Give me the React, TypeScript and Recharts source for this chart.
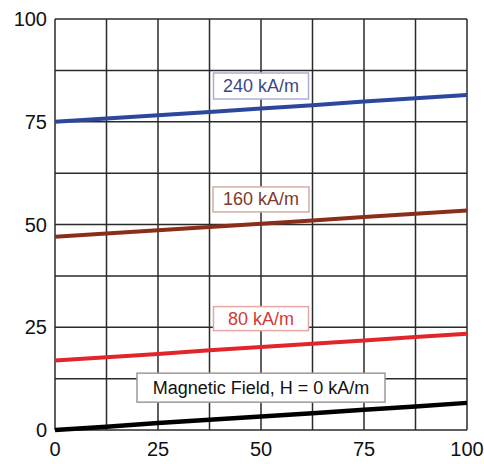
import { LineChart, Line, XAxis, YAxis, CartesianGrid, ReferenceDot } from 'recharts';

const xValues = [0, 12.5, 25, 37.5, 50, 62.5, 75, 87.5, 100];
const h0 = [0, 0.8, 1.7, 2.5, 3.3, 4.1, 4.9, 5.7, 6.6];
const h80 = [16.9, 17.7, 18.5, 19.4, 20.2, 21.0, 21.8, 22.6, 23.4];
const h160 = [47, 47.8, 48.6, 49.4, 50.2, 51.0, 51.8, 52.6, 53.4];
const h240 = [75, 75.8, 76.6, 77.4, 78.2, 79.0, 79.9, 80.7, 81.5];
const gridTicks = [0, 12.5, 25, 37.5, 50, 62.5, 75, 87.5, 100];
const seriesNames = ['Magnetic Field, H = 0 kA/m', '80 kA/m', '160 kA/m', '240 kA/m'];

const toPoints = (ys: number[]) => xValues.map((x, i) => ({ x, y: ys[i] }));

const series = [
  { name: seriesNames[0], data: toPoints(h0), color: '#000000', text: '#111111', border: '#9a9a9a', lx: 50, ly: 10.3, w: 248, h: 29, sw: 4.5 },
  { name: seriesNames[1], data: toPoints(h80), color: '#e0262a', text: '#d23a36', border: '#e7a7a4', lx: 50, ly: 27.1, w: 95, h: 24, sw: 4 },
  { name: seriesNames[2], data: toPoints(h160), color: '#8a2e1c', text: '#7e3a2c', border: '#cfb0a6', lx: 50, ly: 56.1, w: 96, h: 25, sw: 4 },
  { name: seriesNames[3], data: toPoints(h240), color: '#2c479c', text: '#3a4887', border: '#a9afcf', lx: 50, ly: 83.7, w: 95, h: 26, sw: 4 },
];

const fmt = (v: number) => (v % 25 === 0 ? String(v) : '');
const tickStyle = { fontSize: 20, fill: '#111', fontFamily: 'Liberation Sans, Arial, sans-serif' };

function BoxLabel(props: any) {
  const { cx, cy, label, w, h, text, border } = props;
  return (
    <g>
      <rect x={cx - w / 2} y={cy - h / 2} width={w} height={h} fill="#fff" stroke={border} strokeWidth={1.5} />
      <text x={cx} y={cy} textAnchor="middle" dominantBaseline="central" fontSize={18}
        fontFamily="Liberation Sans, Arial, sans-serif" fill={text}>{label}</text>
    </g>
  );
}

export default function App() {
  return (
    <div style={{ position: 'absolute', left: 0, top: 0, background: '#fff' }}>
      <LineChart width={484} height={464} margin={{ top: 19, right: 17, bottom: 4, left: 0 }}>
        <CartesianGrid stroke="#2a2a2a" strokeWidth={1.5} />
        <XAxis dataKey="x" type="number" domain={[0, 100]} ticks={gridTicks} tickFormatter={fmt}
          axisLine={false} tickLine={false} tickSize={0} tickMargin={12} height={30} tick={tickStyle} interval={0} />
        <YAxis type="number" domain={[0, 100]} ticks={gridTicks} tickFormatter={fmt}
          axisLine={false} tickLine={false} tickSize={0} tickMargin={8} width={55} tick={tickStyle} interval={0} />
        {series.map((s) => (
          <Line key={s.name} data={s.data} dataKey="y" type="linear" stroke={s.color} strokeWidth={s.sw}
            dot={false} isAnimationActive={false} />
        ))}
        {series.map((s) => (
          <ReferenceDot key={'l' + s.name} x={s.lx} y={s.ly} ifOverflow="visible"
            shape={(p: any) => <BoxLabel {...p} label={s.name} w={s.w} h={s.h} text={s.text} border={s.border} />} />
        ))}
      </LineChart>
    </div>
  );
}
